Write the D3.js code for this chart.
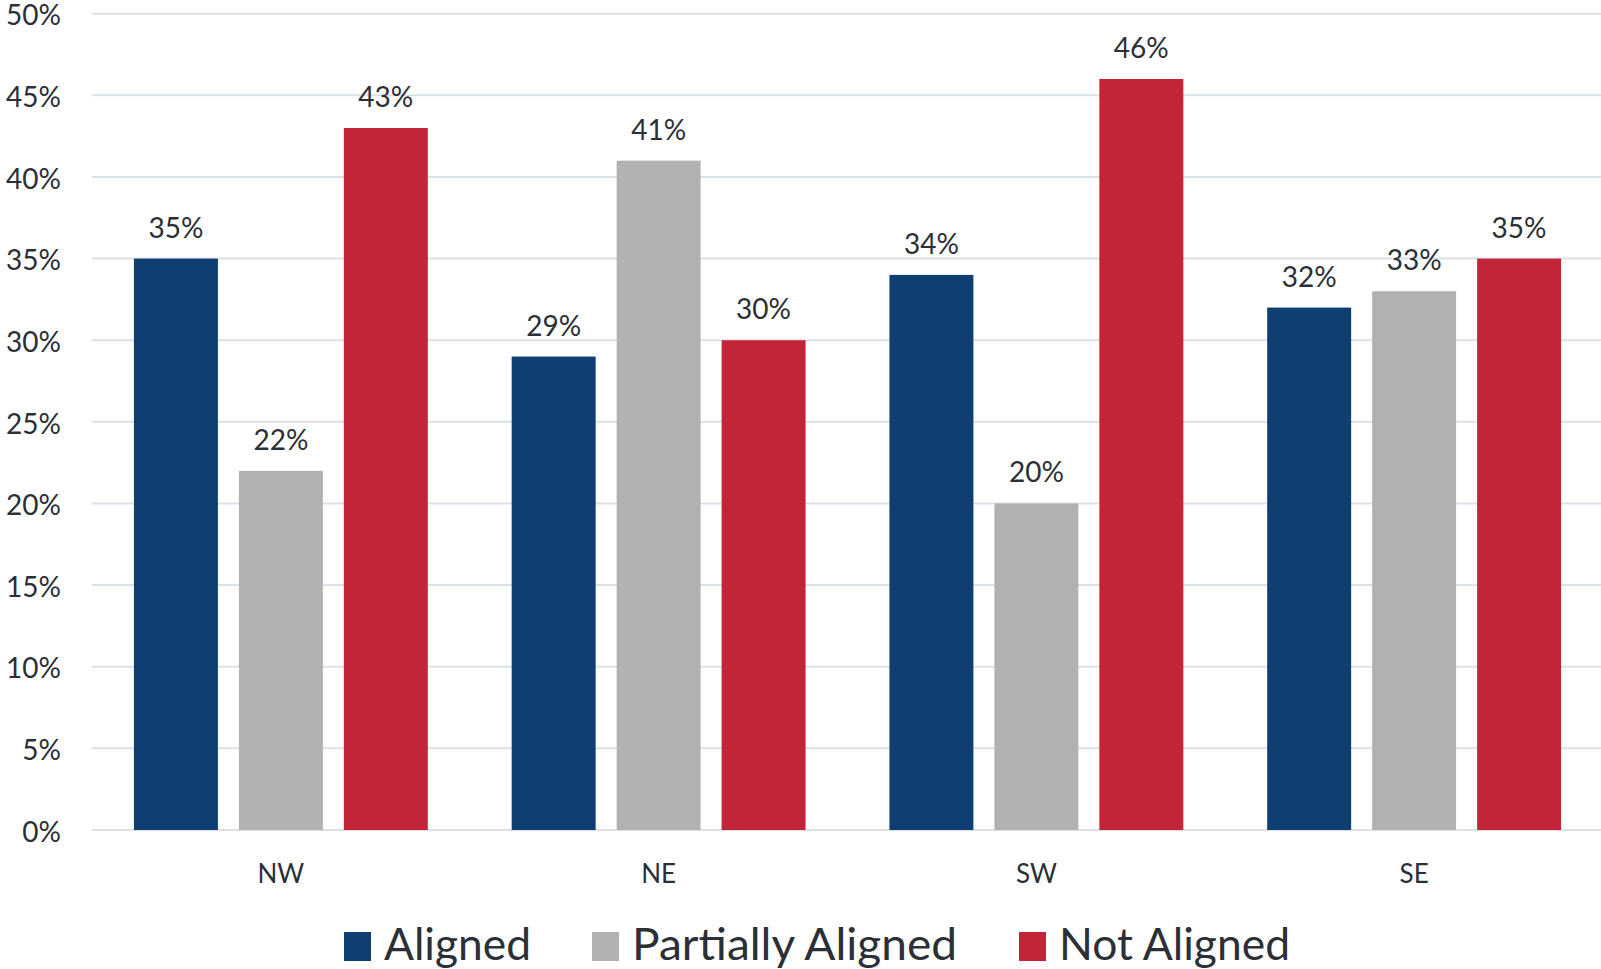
<!DOCTYPE html>
<html><head><meta charset="utf-8">
<script src="https://cdn.jsdelivr.net/npm/d3@7/dist/d3.min.js"></script>
<style>html,body{margin:0;padding:0;background:#fff;overflow:hidden}</style>
</head><body><svg id="c" width="1601" height="969"></svg>
<script>
const regions = ["NW", "NE", "SW", "SE"];
const seriesNames = ["Aligned", "Partially Aligned", "Not Aligned"];
const aligned = [35, 29, 34, 32];
const partiallyAligned = [22, 41, 20, 33];
const notAligned = [43, 30, 46, 35];
const yTicks = [0, 5, 10, 15, 20, 25, 30, 35, 40, 45, 50];
const colors = ["#0f3e73", "#b1b2b0", "#c12537"];

const values = [aligned, partiallyAligned, notAligned];
const svg = d3.select("#c");
const font = "Lato, 'Noto Sans', sans-serif";
const textColor = "#2b2f36";

const x0 = d3.scaleBand().domain(regions).range([92, 1603]).paddingInner(0.222).paddingOuter(0.111);
const x1 = d3.scaleBand().domain(seriesNames).range([0, x0.bandwidth()]).paddingInner(0.2).paddingOuter(0);
const y = d3.scaleLinear().domain([0, 50]).range([830, 13.7]);

// gridlines
svg.append("g").selectAll("line").data(yTicks).join("line")
  .attr("x1", 92).attr("x2", 1601)
  .attr("y1", d => y(d)).attr("y2", d => y(d))
  .attr("stroke", "#dde1e6").attr("stroke-width", 2);

// y axis labels
const yAxis = d3.axisLeft(y).tickValues(yTicks).tickFormat(d => d + "%").tickSize(0).tickPadding(0);
const ya = svg.append("g").attr("transform", "translate(61,0)").call(yAxis);
ya.select(".domain").remove();
ya.selectAll("text").attr("font-family", font).attr("font-size", 28).attr("fill", textColor).attr("dy", "0.4em");

// bars
const groups = svg.append("g").selectAll("g").data(regions).join("g")
  .attr("transform", d => `translate(${x0(d)},0)`);
groups.selectAll("rect").data((d, i) => seriesNames.map((s, k) => ({s, k, v: values[k][i]}))).join("rect")
  .attr("x", d => x1(d.s)).attr("width", x1.bandwidth())
  .attr("y", d => y(d.v)).attr("height", d => y(0) - y(d.v))
  .attr("fill", d => colors[d.k]);
groups.selectAll("text").data((d, i) => seriesNames.map((s, k) => ({s, k, v: values[k][i]}))).join("text")
  .attr("x", d => x1(d.s) + x1.bandwidth() / 2).attr("y", d => y(d.v) - 21)
  .attr("text-anchor", "middle").attr("font-family", font).attr("font-size", 28).attr("fill", textColor)
  .text(d => d.v + "%");

// x axis labels
const xAxis = d3.axisBottom(x0).tickSize(0).tickPadding(0);
const xa = svg.append("g").attr("transform", "translate(0,883)").call(xAxis);
xa.select(".domain").remove();
xa.selectAll("text").attr("font-family", font).attr("font-size", 26).attr("fill", textColor).attr("dy", 0);

// legend
const legendX = [344, 592, 1019];
const legendW = [147, 325, 231];
const lg = svg.append("g").selectAll("g").data(seriesNames).join("g")
  .attr("transform", (d, i) => `translate(${legendX[i]},0)`);
lg.append("rect").attr("x", 0).attr("y", 932).attr("width", 27).attr("height", 29).attr("fill", (d, i) => colors[i]);
lg.append("text").attr("x", 40).attr("y", 960).attr("font-family", font).attr("font-size", 44).attr("fill", textColor)
  .attr("textLength", (d, i) => legendW[i]).attr("lengthAdjust", "spacingAndGlyphs")
  .text(d => d);
</script></body></html>
